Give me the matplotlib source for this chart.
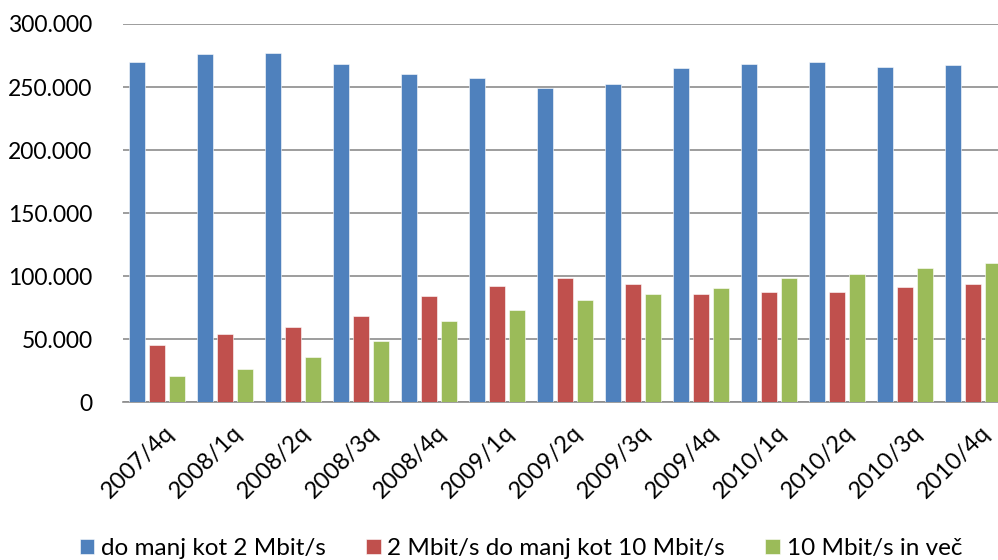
import matplotlib
matplotlib.use("Agg")
import matplotlib.pyplot as plt
from matplotlib.ticker import FuncFormatter, MultipleLocator
from matplotlib.transforms import ScaledTranslation
import numpy as np

categories = ["2007/4q", "2008/1q", "2008/2q", "2008/3q", "2008/4q", "2009/1q", "2009/2q",
              "2009/3q", "2009/4q", "2010/1q", "2010/2q", "2010/3q", "2010/4q"]
low = [269800, 275900, 277000, 268200, 260300, 257100, 249500, 252400, 265300, 268000, 270100, 266100, 267400]
mid = [45200, 53900, 59700, 68700, 84600, 92200, 98800, 93800, 85900, 87200, 87700, 91400, 93600]
high = [20900, 26700, 35900, 48600, 64500, 73200, 81100, 85600, 90600, 98800, 101700, 106200, 110200]
series_names = ["do manj kot 2 Mbit/s", "2 Mbit/s do manj kot 10 Mbit/s", "10 Mbit/s in več"]
colors = ["#4F81BD", "#C0504D", "#9BBB59"]

plt.rcParams['font.family'] = ['Lato', 'DejaVu Sans']

fig = plt.figure(figsize=(9.98, 5.6), dpi=100)
ax = fig.add_axes([123/998, (560-402.3)/560, (1007-123)/998, (402.3-24)/560])

x = np.arange(len(categories))
w = 0.235
off = 0.294
for vals, c, name, o in zip([low, mid, high], colors, series_names, [-off, 0, off]):
    ax.bar(x + o, vals, width=w, color=c, edgecolor="white", linewidth=0.4, label=name, zorder=3)

ax.set_xlim(-0.5, len(categories) - 0.5)
ax.set_ylim(0, 300000)
ax.yaxis.set_major_locator(MultipleLocator(50000))
ax.yaxis.set_major_formatter(FuncFormatter(lambda v, p: f"{int(round(v)):,}".replace(",", ".")))
ax.grid(axis="y", color="#8c8c8c", linewidth=1.2, zorder=0)
ax.set_axisbelow(True)
for s in ["left", "right", "top"]:
    ax.spines[s].set_visible(False)
ax.spines["bottom"].set_color("#8c8c8c")
ax.spines["bottom"].set_linewidth(1.2)
ax.tick_params(axis="y", length=0, pad=22, labelsize=16.5)
ax.tick_params(axis="x", length=0, pad=14, labelsize=17)
ax.set_xticks(x)
ax.set_xticklabels(categories, rotation=45, ha="right", va="top", rotation_mode="anchor")
shift = ScaledTranslation(6/100, 0, fig.dpi_scale_trans)
for lbl in ax.get_xticklabels():
    lbl.set_transform(lbl.get_transform() + shift)

handles, labels = ax.get_legend_handles_labels()
fig.legend(handles, labels, loc="center", bbox_to_anchor=(0.522, 0.02), ncol=3, frameon=False,
           fontsize=17.5, handlelength=0.6, handleheight=0.6, handletextpad=0.28, columnspacing=1.65)

fig.savefig("out.png", dpi=100)
